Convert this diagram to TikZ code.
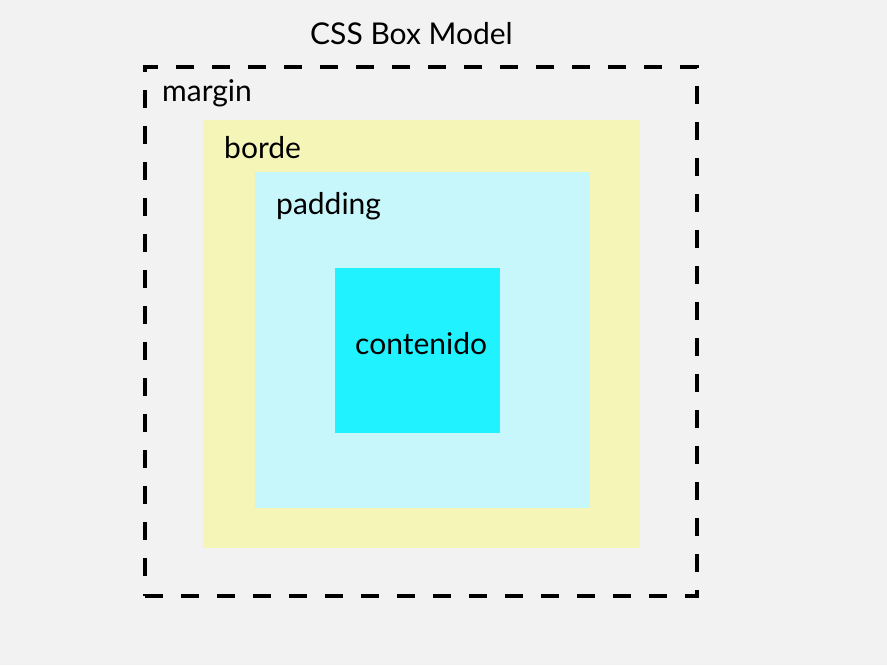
\documentclass[tikz,border=0pt]{standalone}
\usepackage{fontspec}
\setmainfont{Lato}
\usetikzlibrary{positioning}
\definecolor{canvas}{HTML}{F2F2F2}
\definecolor{bordefill}{HTML}{F5F5B8}
\definecolor{paddingfill}{HTML}{C8F7FB}
\definecolor{contentfill}{HTML}{20F3FF}

\begin{document}
\begin{tikzpicture}[x=1pt, y=-1pt, font=\fontsize{30}{34}\selectfont,
    layer/.style={draw=none, inner sep=0pt, outer sep=0pt},
    tag/.style={anchor=base west, inner sep=0pt}]
    \fill[canvas] (0,0) rectangle (887,665);
    \useasboundingbox (0,0) rectangle (887,665);

    \node[layer, draw=black, line width=3.5pt, dash pattern=on 18pt off 18pt,
          minimum width=552pt, minimum height=529pt] (margin) at (421,331.5) {};
    \node[layer, fill=bordefill, minimum width=437pt, minimum height=428pt] (borde) at (421.5,334) {};
    \node[layer, fill=paddingfill, minimum width=335pt, minimum height=336pt] (padding) at (422,340) {};
    \node[layer, fill=contentfill, minimum width=165pt, minimum height=165pt] (contenido) at (417.5,350.5) {};

    \node[tag] (title) at (310,44) {CSS Box Model};
    \node[tag] (margintag) at (162,101) {margin};
    \node[tag] (bordetag) at (224,158) {borde};
    \node[tag] (paddingtag) at (276,214) {padding};
    \node[tag] (contenidotag) at (355,354) {contenido};
\end{tikzpicture}
\end{document}
